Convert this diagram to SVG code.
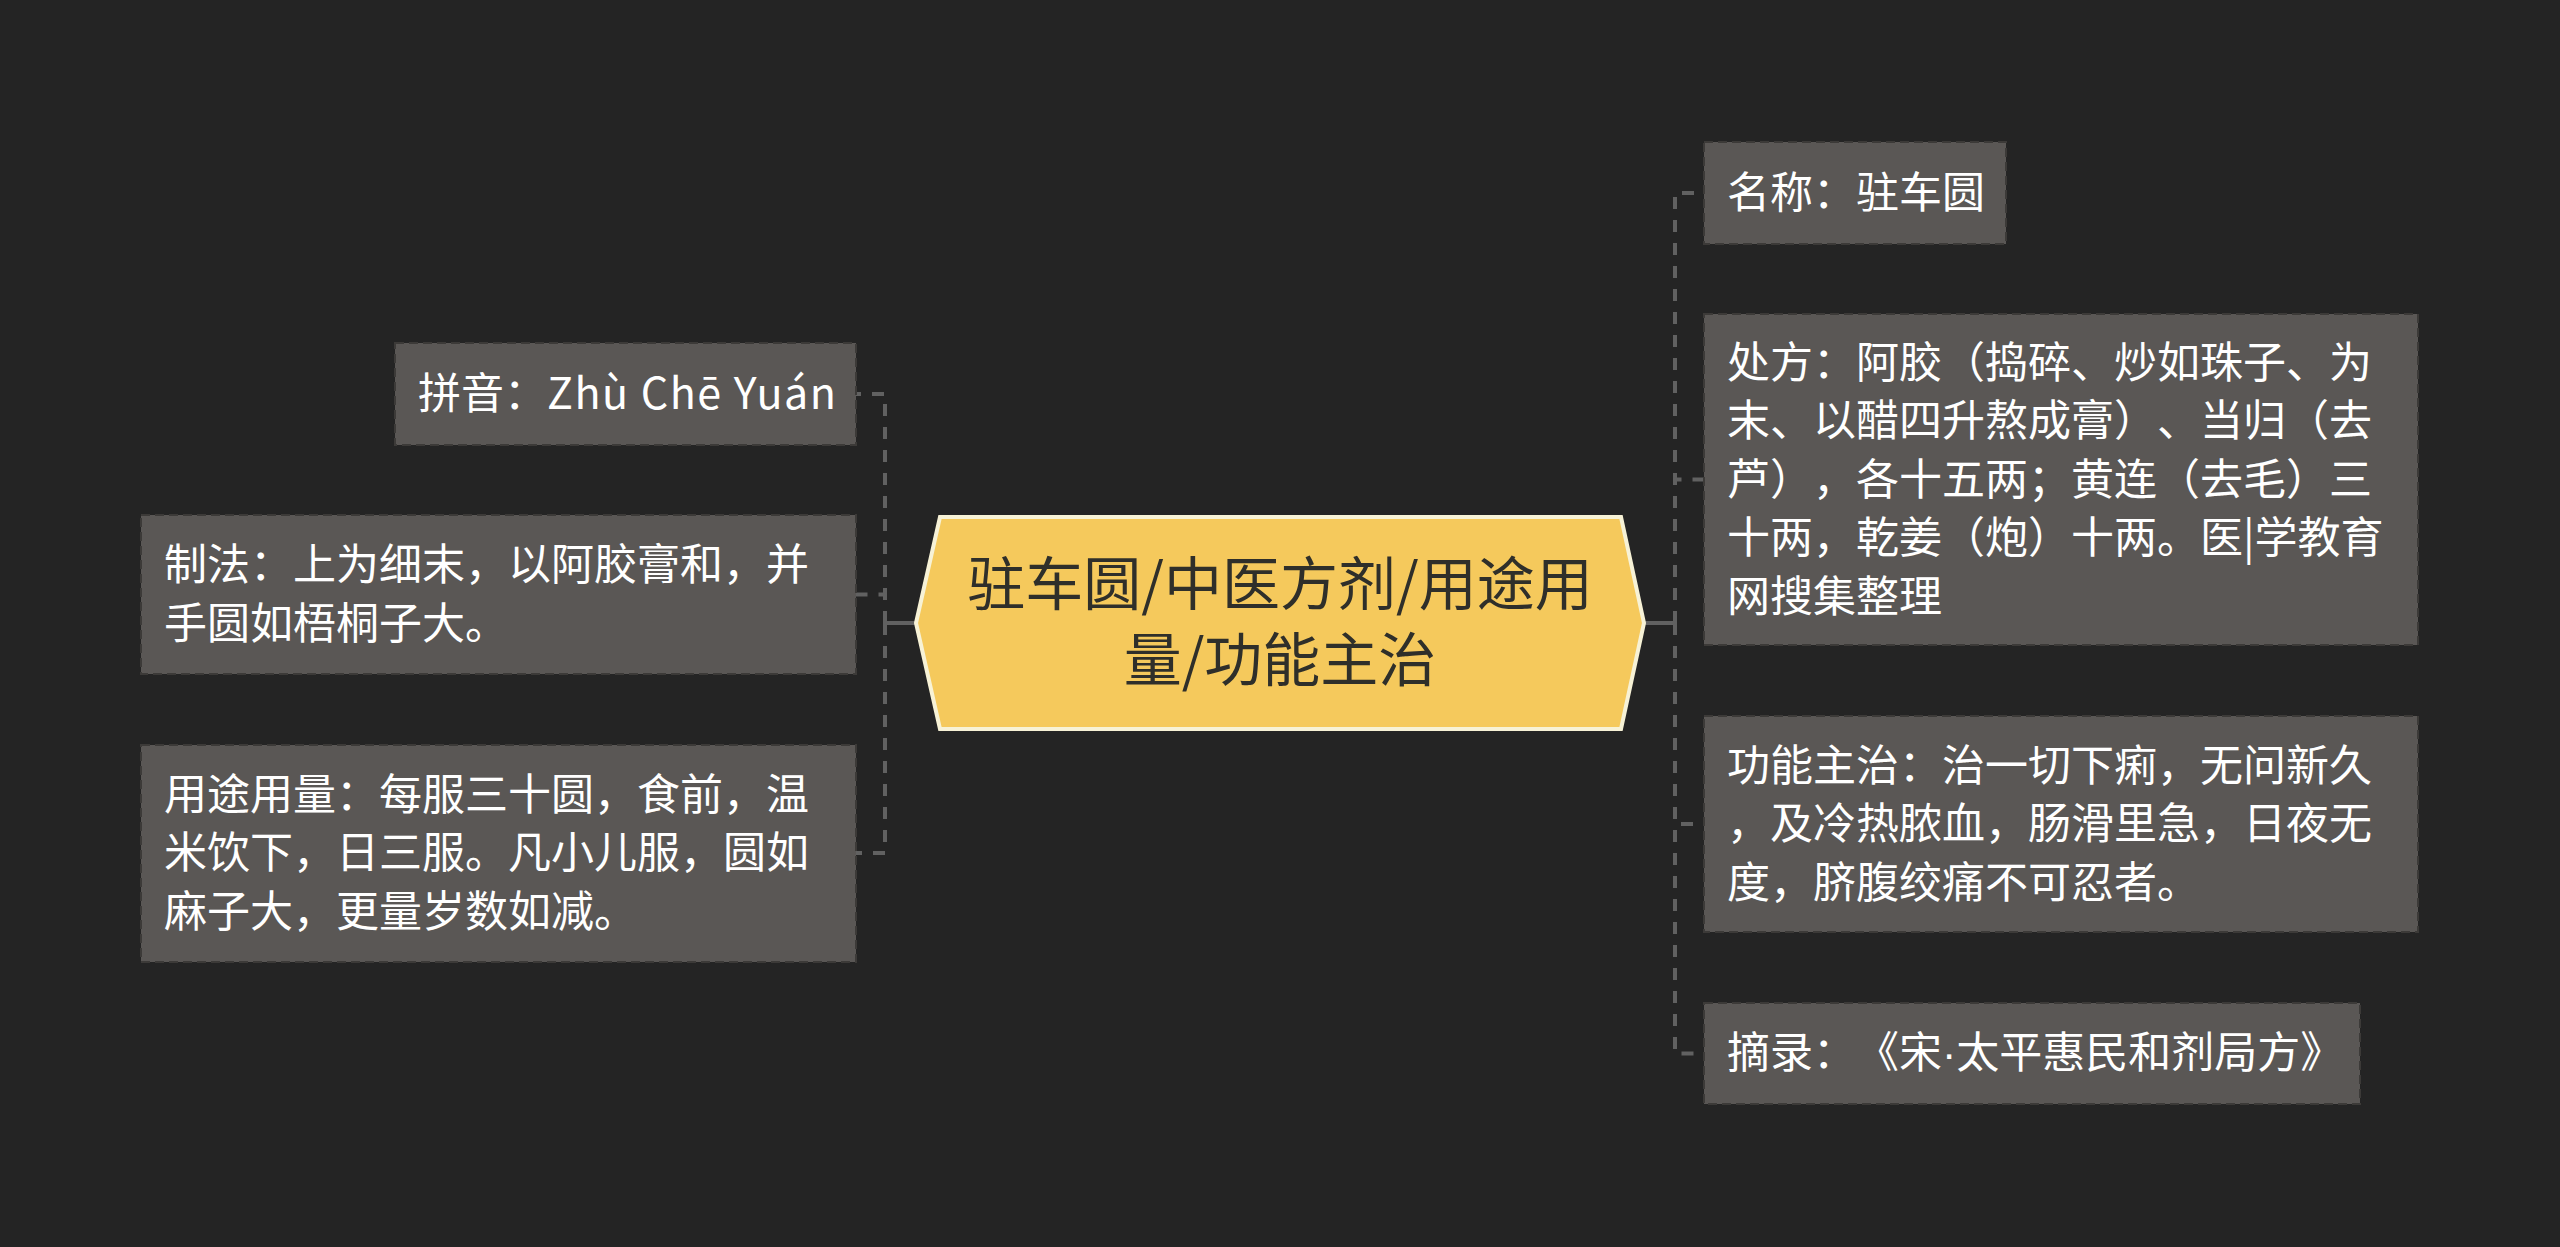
<svg xmlns="http://www.w3.org/2000/svg" width="2560" height="1247" viewBox="0 0 2560 1247">
<style>
.bg{fill:#242424}
.box{fill:#5a5755;stroke:#3c3a38;stroke-width:2;stroke-dasharray:9 5}
.t{font-family:"Noto Sans CJK SC","Noto Sans",sans-serif;font-size:43px;fill:#ffffff;text-spacing-trim:space-all}
.ct{font-family:"Noto Sans CJK SC","Noto Sans",sans-serif;font-size:58px;fill:#2f2f2a;text-anchor:middle;text-spacing-trim:space-all}
.dash{fill:none;stroke:#616161;stroke-width:4;stroke-dasharray:12 11}
.solid{fill:none;stroke:#616161;stroke-width:4}
</style>
<rect class="bg" x="0" y="0" width="2560" height="1247"/>
<g id="connectors">
<path class="solid" d="M916,623 H885"/>
<path class="dash" d="M885,623 V394 H856"/>
<path class="dash" d="M885,623 V594.5 H856"/>
<path class="dash" d="M885,623 V853 H856"/>
<path class="solid" d="M1644,623 H1675"/>
<path class="dash" d="M1675,623 V193 H1704"/>
<path class="dash" d="M1675,623 V479.5 H1704"/>
<path class="dash" d="M1675,623 V824 H1704"/>
<path class="dash" d="M1675,623 V1053.5 H1704"/>
</g>
<g id="center">
<polygon points="916,623 940,517 1621,517 1644,623 1621,729 940,729" fill="#f5c95c" stroke="#f7f2d6" stroke-width="4"/>
<text class="ct"><tspan x="1280" y="605">驻车圆/中医方剂/用途用</tspan><tspan x="1280" y="681">量/功能主治</tspan></text>
</g>
<g id="pinyin">
<rect class="box" x="395" y="343" width="461" height="102"/>
<text class="t" x="418" y="409">拼音：<tspan letter-spacing="1.5">Zhù Chē Yuán</tspan></text>
</g>
<g id="zhifa">
<rect class="box" x="141" y="515" width="715" height="159"/>
<text class="t" x="164" y="580">制法：上为细末，以阿胶膏和，并</text>
<text class="t" x="164" y="639">手圆如梧桐子大。</text>
</g>
<g id="yongtu">
<rect class="box" x="141" y="745" width="715" height="217"/>
<text class="t" x="164" y="810">用途用量：每服三十圆，食前，温</text>
<text class="t" x="164" y="868">米饮下，日三服。凡小儿服，圆如</text>
<text class="t" x="164" y="927">麻子大，更量岁数如减。</text>
</g>
<g id="mingcheng">
<rect class="box" x="1704" y="142" width="302" height="102"/>
<text class="t" x="1727" y="208">名称：驻车圆</text>
</g>
<g id="chufang">
<rect class="box" x="1704" y="314" width="714" height="331"/>
<text class="t" x="1727" y="378">处方：阿胶（捣碎、炒如珠子、为</text>
<text class="t" x="1727" y="436">末、以醋四升熬成膏）、当归（去</text>
<text class="t" x="1727" y="495">芦），各十五两；黄连（去毛）三</text>
<text class="t" x="1727" y="553">十两，乾姜（炮）十两。医|学教育</text>
<text class="t" x="1727" y="612">网搜集整理</text>
</g>
<g id="gongneng">
<rect class="box" x="1704" y="716" width="714" height="216"/>
<text class="t" x="1727" y="781">功能主治：治一切下痢，无问新久</text>
<text class="t" x="1727" y="839">，及冷热脓血，肠滑里急，日夜无</text>
<text class="t" x="1727" y="898">度，脐腹绞痛不可忍者。</text>
</g>
<g id="zhailu">
<rect class="box" x="1704" y="1003" width="656" height="101"/>
<text class="t" x="1727" y="1068">摘录：《宋<tspan font-family="Liberation Sans, sans-serif">·</tspan>太平惠民和剂局方》</text>
</g>
</svg>
